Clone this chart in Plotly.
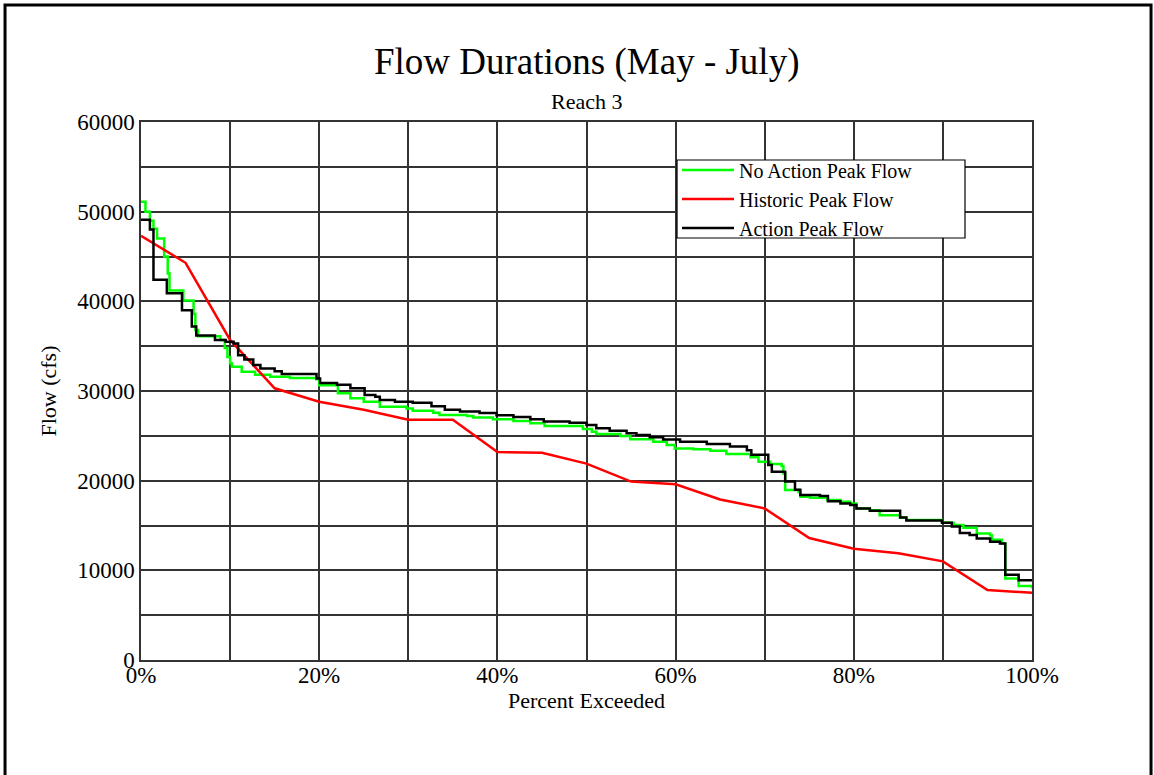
import plotly.graph_objects as go

# percent exceeded (0-100) and flow (cfs)
hist_pct = [0, 5, 10, 15, 20, 25, 30, 35, 40, 45, 50, 55, 60, 65, 70, 75, 80, 85, 90, 95, 100]
hist_flow = [47300, 44300, 35700, 30300, 28800, 27900, 26800, 26800, 23200, 23100, 21900,
             19900, 19600, 17900, 16900, 13600, 12400, 11900, 11000, 7800, 7500]

noact_pct = [0, 0.5, 1.0, 1.4, 1.8, 2.6, 3.0, 3.2, 4.75, 5.9, 6.1, 6.4, 8.9, 9.4, 9.7, 10.0,
             10.2, 11.3, 12.8, 14.5, 16.7, 19.7, 20.0, 22.1, 23.5, 25.0, 26.8, 29.8, 30.5,
             32.8, 33.5, 36.6, 37.3, 39.5, 41.8, 43.7, 45.3, 49.6, 50.6, 51.1, 53.8, 54.9,
             57.5, 59.0, 59.9, 62.0, 63.9, 65.7, 68.4, 69.3, 70.6, 71.9, 72.1, 72.3, 73.8,
             74.0, 75.1, 77.0, 78.5, 79.6, 80.3, 81.8, 82.9, 85.2, 85.9, 89.9, 91.2, 92.3,
             93.8, 95.3, 95.5, 96.6, 97.0, 98.5, 100]
noact_flow = [51100, 50000, 49000, 48100, 47000, 45000, 43100, 41200, 40100, 38600, 36800,
              36100, 35700, 34800, 33800, 33100, 32700, 32150, 31800, 31600, 31450, 31300,
              30650, 29750, 29200, 28800, 28250, 28050, 27800, 27580, 27320, 27200, 27050,
              26850, 26650, 26400, 26100, 25750, 25450, 25200, 24980, 24610, 24350, 23980,
              23600, 23500, 23340, 22970, 22600, 22120, 21860, 21640, 20800, 18950, 18750,
              18200, 18100, 17850, 17650, 17450, 16900, 16700, 16150, 15900, 15600, 15300,
              15050, 14750, 14100, 13900, 13400, 13000, 9100, 8250, 8000]

act_pct = [0, 1.0, 1.4, 2.9, 4.6, 5.7, 6.2, 8.3, 9.5, 10.4, 10.9, 11.6, 12.6, 13.4, 15.0,
           15.8, 19.7, 20.1, 22.0, 23.5, 25.1, 26.3, 26.8, 28.5, 30.5, 32.6, 34.1, 35.8,
           38.0, 39.9, 41.8, 43.7, 45.2, 48.1, 50.0, 51.1, 52.6, 54.5, 55.6, 57.1, 58.6,
           60.5, 63.5, 66.1, 68.0, 68.5, 70.4, 70.8, 72.3, 73.4, 74.0, 76.2, 77.1, 78.5,
           79.6, 80.3, 81.8, 85.2, 85.9, 89.9, 91.0, 91.9, 93.0, 93.8, 95.3, 96.4, 97.0,
           98.5, 100]
act_flow = [49100, 48000, 42400, 40900, 39000, 37200, 36200, 35700, 35500, 35300, 34000,
            33500, 32900, 32500, 32200, 31900, 31400, 30900, 30700, 30300, 29550, 29350,
            29000, 28800, 28700, 28300, 27900, 27700, 27550, 27300, 27100, 26850, 26600,
            26450, 26200, 25850, 25570, 25300, 25100, 24850, 24600, 24350, 24100, 23800,
            23400, 22900, 21750, 21000, 19900, 19000, 18400, 18300, 17700, 17450, 17300,
            16900, 16650, 15900, 15550, 15300, 14900, 14150, 13950, 13550, 13200, 13000,
            9500, 8900, 8900]

serif = "Liberation Serif, Times New Roman, serif"

fig = go.Figure()
fig.add_trace(go.Scatter(x=[p / 100 for p in noact_pct], y=noact_flow, mode="lines",
                         line=dict(color="#00ff00", width=2.5, shape="hv"),
                         name="No Action Peak Flow"))
fig.add_trace(go.Scatter(x=[p / 100 for p in hist_pct], y=hist_flow, mode="lines",
                         line=dict(color="#ff0000", width=2.5),
                         name="Historic Peak Flow"))
fig.add_trace(go.Scatter(x=[p / 100 for p in act_pct], y=act_flow, mode="lines",
                         line=dict(color="#000000", width=2.5, shape="hv"),
                         name="Action Peak Flow"))

grid = dict(showgrid=True, gridcolor="#333333", gridwidth=1.5, zeroline=False,
            showline=True, linecolor="#333333", linewidth=1.5, mirror=True,
            ticks="", tickfont=dict(family=serif, size=23, color="black"))

fig.update_layout(
    width=1154, height=775,
    margin=dict(l=141, r=122, t=122, b=115),
    paper_bgcolor="white", plot_bgcolor="white",
    font=dict(family=serif, color="black"),
    xaxis=dict(range=[0, 1], dtick=0.2, tickformat=".0%", ticklabelstandoff=-6,
               minor=dict(dtick=0.1, showgrid=True, gridcolor="#333333", gridwidth=1.5),
               title=dict(text="Percent Exceeded", font=dict(family=serif, size=22), standoff=0),
               **grid),
    yaxis=dict(range=[0, 60000], dtick=10000, tickformat="d",
               minor=dict(dtick=5000, showgrid=True, gridcolor="#333333", gridwidth=1.5),
               title=dict(text="Flow (cfs)", font=dict(family=serif, size=22), standoff=14),
               **grid),
    legend=dict(x=0.6016, y=0.8569, xanchor="left", yanchor="middle",
                bgcolor="rgba(0,0,0,0)", borderwidth=0,
                font=dict(family=serif, size=20, color="black"),
                tracegroupgap=0, itemwidth=52),
    showlegend=True,
)

# legend frame
fig.add_shape(type="rect", xref="paper", yref="paper", layer="above",
              x0=0.6016, x1=0.9248, y0=0.7844, y1=0.9294,
              line=dict(color="black", width=1.2), fillcolor="white")

fig.add_annotation(text="Flow Durations (May - July)", xref="paper", yref="paper",
                   x=0.5, y=1.1115, xanchor="center", yanchor="middle", showarrow=False,
                   font=dict(family=serif, size=37, color="black"))
fig.add_annotation(text="Reach 3", xref="paper", yref="paper",
                   x=0.5, y=1.039, xanchor="center", yanchor="middle", showarrow=False,
                   font=dict(family=serif, size=22, color="black"))

fig.add_shape(type="rect", xref="paper", yref="paper",
              x0=-0.1526, x1=1.1336, y0=-0.35, y1=1.2175,
              line=dict(color="black", width=3), fillcolor="rgba(0,0,0,0)")

fig.write_html("out.html", config={"displayModeBar": False},
               post_script="document.body.style.margin='0';")
